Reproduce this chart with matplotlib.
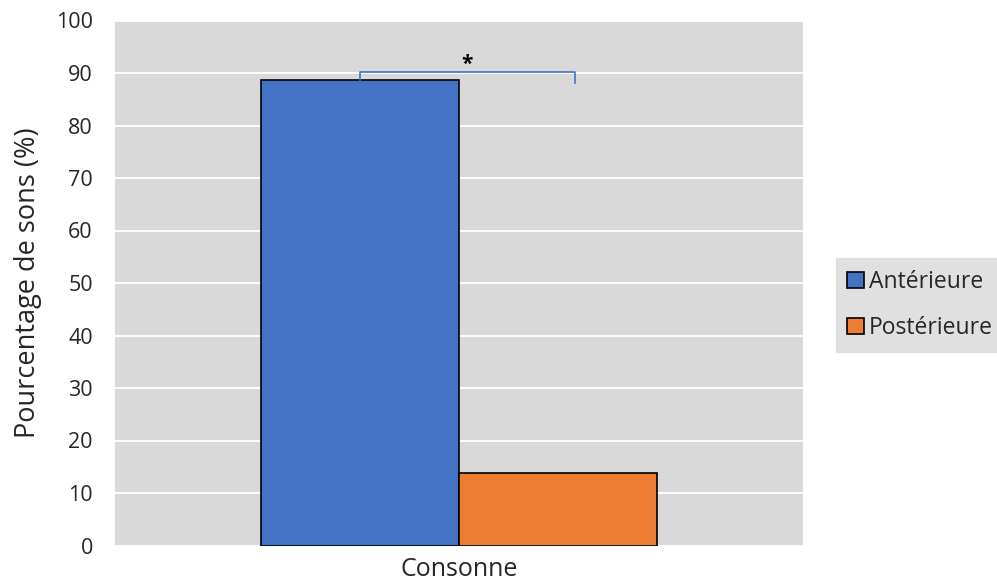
import matplotlib
matplotlib.use("Agg")
import matplotlib.pyplot as plt

categories = ["Consonne"]
series_names = ["Antérieure", "Postérieure"]
values_ant = [88.7]
values_post = [13.75]
colors = ["#4472C4", "#ED7D31"]
yticks = [0, 10, 20, 30, 40, 50, 60, 70, 80, 90, 100]

plt.rcParams['font.family'] = ['Open Sans', 'DejaVu Sans']

fig = plt.figure(figsize=(9.97, 5.83), dpi=100)
ax = fig.add_axes([115/997, 1-545.5/583, (803-115)/997, (545.5-20.5)/583])
ax.set_facecolor("#D9D9D9")

w = 198/688
ax.bar([-w/2], values_ant, width=w, color=colors[0], edgecolor="black", linewidth=1.2, label=series_names[0], zorder=3)
ax.bar([w/2], values_post, width=w, color=colors[1], edgecolor="black", linewidth=1.2, label=series_names[1], zorder=3)

ax.set_xlim(-0.5, 0.5)
ax.set_ylim(0, 100)
ax.set_yticks(yticks)
ax.set_yticklabels([str(t) for t in yticks], fontsize=15.5, color="#262626")
ax.set_xticks([0])
ax.set_xticklabels(categories, fontsize=18, color="#262626")
ax.tick_params(axis='y', length=0, pad=16)
ax.tick_params(axis='x', length=0, pad=8)
ax.grid(axis='y', color='white', linewidth=1.3, zorder=0)
ax.set_axisbelow(True)
for s in ax.spines.values():
    s.set_visible(False)
ax.set_ylabel("Pourcentage de sons (%)", fontsize=19.5, labelpad=10, color="#262626")

# significance bracket
xl, xr = -w/2, (575-459)/688
ax.plot([xl, xl, xr, xr], [values_ant[0], 90.1, 90.1, 88.1], color="#4472C4", linewidth=1.2, zorder=4)
ax.text((xl+xr)/2, 90.6, "*", ha='center', va='baseline', fontsize=15, fontweight='bold', zorder=5)

leg = fig.legend(loc='center left', bbox_to_anchor=(836/997, 1-305/583), frameon=True,
                 fontsize=16.5, handlelength=0.7, handleheight=0.7, handletextpad=0.25,
                 labelspacing=1.0, borderpad=0.5, borderaxespad=0.0, fancybox=False)
leg.get_frame().set_facecolor("#D9D9D9")
leg.get_frame().set_edgecolor("#D9D9D9")
for t in leg.get_texts():
    t.set_color("#262626")

fig.savefig("out.png", dpi=100)
